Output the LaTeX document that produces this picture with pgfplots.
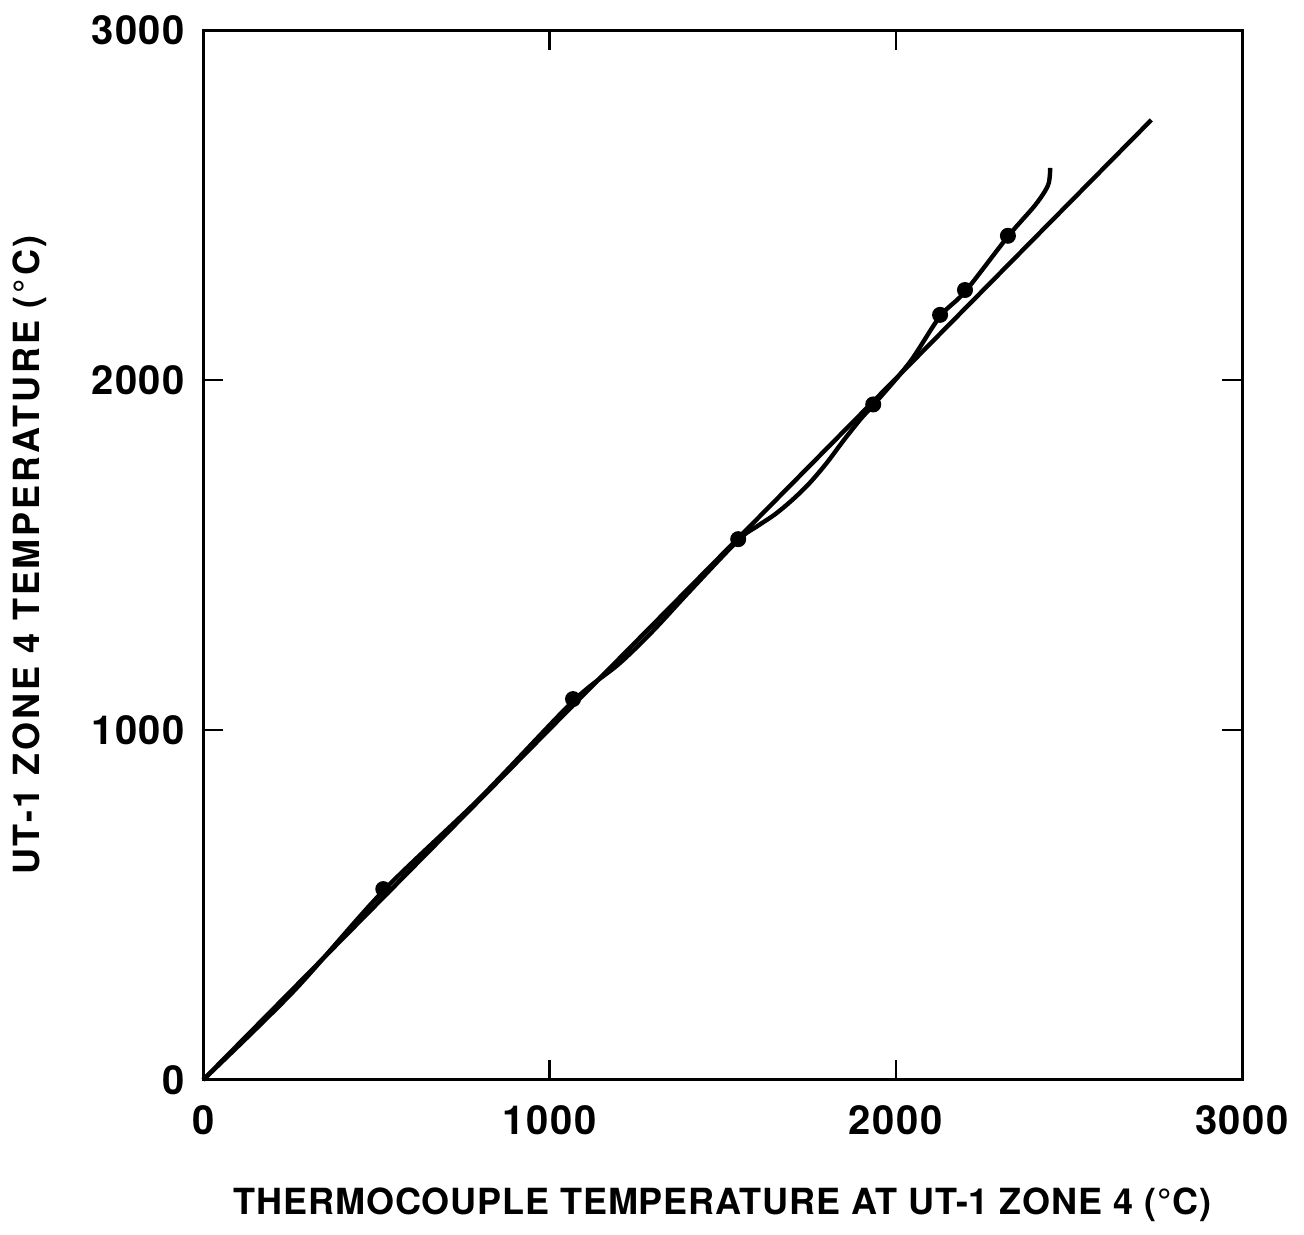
\documentclass[border=0pt]{standalone}
\usepackage{fontspec}
\setmainfont{TeX Gyre Heros}
\usepackage{pgfplots}
\pgfplotsset{compat=1.18}

\begin{document}
\begin{tikzpicture}
\begin{axis}[
    scale only axis,
    width=259.75pt, height=262.5pt,
    xmin=0, xmax=3000, ymin=0, ymax=3000,
    xtick={0,1000,2000,3000}, ytick={0,1000,2000,3000},
    tick align=inside,
    major tick length=5pt,
    tick style={line width=0.6pt, black},
    axis line style={line width=0.75pt},
    clip=false,
    /pgf/number format/assume math mode=true,
    /pgf/number format/1000 sep={},
    ticklabel style={font=\fontsize{10}{12}\selectfont\bfseries\addfontfeature{LetterSpace=4}},
    xticklabel style={yshift=-3pt},
    yticklabel style={xshift=-1pt},
    xlabel={THERMOCOUPLE TEMPERATURE AT UT-1 ZONE 4 (°C)},
    ylabel={UT-1 ZONE 4 TEMPERATURE (°C)},
    xlabel style={font=\fontsize{9}{11}\selectfont\bfseries\addfontfeature{LetterSpace=2.5},
        at={(rel axis cs:0.5,-0.119)}, anchor=center},
    ylabel style={font=\fontsize{9}{11}\selectfont\bfseries\addfontfeature{LetterSpace=8},
        at={(rel axis cs:-0.1665,0.5)}, anchor=center},
]
% bounding box matching the reference margins
\path (rel axis cs:-0.1954,-0.139) rectangle (rel axis cs:1.0597,1.0286);

% reference line
\addplot[black, line width=1.1pt] coordinates {(0,0) (2738,2743)};

% measured curve
\addplot[black, line width=1.1pt, smooth] coordinates {
(0,0) (260,252) (520,540) (800,806) (1068,1082)
(1200,1188) (1300,1284) (1400,1391) (1545,1542)
(1600,1582) (1650,1615) (1700,1656) (1750,1704) (1800,1762)
(1850,1828) (1900,1890) (1935,1928) (2040,2050) (2128,2182) (2200,2252)
(2324,2410) (2403,2500) (2440,2557) (2446,2606)};

% data points
\addplot[only marks, mark=*, mark size=1.8pt, black] coordinates {
(520,545) (1068,1088) (1545,1545) (1935,1930) (2128,2186) (2200,2257) (2324,2412)};
\end{axis}
\end{tikzpicture}
\end{document}
